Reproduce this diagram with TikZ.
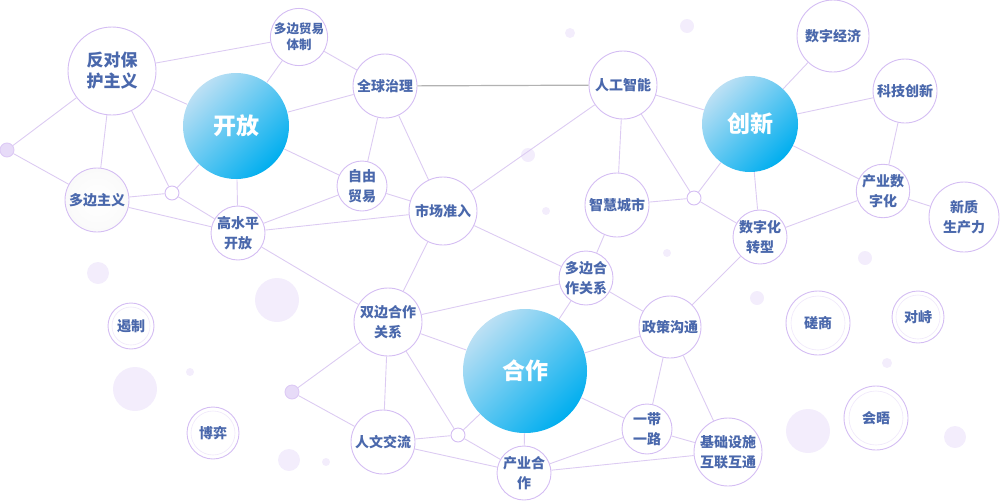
\documentclass[tikz,border=0pt]{standalone}
\usepackage{fontspec}
\setmainfont{Noto Sans CJK SC}
\usetikzlibrary{arrows}

\definecolor{edgec}{HTML}{DCCBF2}
\definecolor{ringc}{HTML}{D4BDF3}
\definecolor{txtc}{HTML}{4A68AC}
\definecolor{blobc}{HTML}{F3EDFC}
\definecolor{hubl}{HTML}{BCE0F4}
\definecolor{hubd}{HTML}{00AEEF}

\begin{document}
\begin{tikzpicture}
  [x=1pt,y=-1pt,every node/.style={draw=ringc,circle,fill=white,inner sep=0pt,line width=0.9pt,
   text=txtc,align=center,font=\bfseries\fontsize{14}{20}\selectfont}]

  \tikzstyle{hub} = [draw=none,shading=axis,top color=hubl,bottom color=hubd,shading angle=45,
                     text=white,font=\bfseries\fontsize{23}{23}\selectfont]
  \tikzstyle{knot} = [minimum size=14pt]
  \tikzstyle{dot} = [knot,fill=ringc!55,draw=ringc!80]

  \useasboundingbox (0,0) rectangle (1000,501);

  % background bubbles
  \foreach \x/\y/\r in {98/273/11,277/300/22,135/389/22,190/372/4,289/460/11,326/462/4,
                        757/298/7,865/258/7,667/253/4,887/363/5,808/431/22,955/437/11,
                        570/33/5,687/26/7,528/155/7,546/211/4}
    \fill[blobc] (\x,\y) circle (\r);

  % hubs
  \node[hub,minimum size=106pt] (kai) at (236,126) {开放};
  \node[hub,minimum size=96pt]  (chx) at (750,124) {创新};
  \node[hub,minimum size=124pt] (hz)  at (525,371) {合作};

  % open side
  \node[minimum size=88pt,font=\bfseries\fontsize{17}{21}\selectfont] (fdb) at (112,71) {反对保\\护主义};
  \node[minimum size=52pt,font=\bfseries\fontsize{12.5}{16}\selectfont] (dmt) at (299,37) {多边贸易\\体制};
  \node[minimum size=64pt] (qzl) at (385,86) {全球治理};
  \node[minimum size=64pt,inner color=white,outer color=gray!4] (dbz) at (97,200) {多边主义};
  \node[knot] (ka) at (172,193) {};
  \node[dot]  (da) at (7,150) {};
  \node[minimum size=50pt] (zym) at (362,186) {自由\\贸易};
  \node[minimum size=68pt] (sczr) at (443,211) {市场准入};
  \node[minimum size=54pt] (gsp) at (238,233) {高水平\\开放};

  % innovation side
  \node[minimum size=68pt] (rgz) at (623,85) {人工智能};
  \node[minimum size=72pt] (szj) at (833,36) {数字经济};
  \node[minimum size=64pt] (kjc) at (905,91) {科技创新};
  \node[minimum size=48pt] (cys) at (883,191) {产业数\\字化};
  \node[minimum size=70pt] (xzs) at (964,217) {新质\\生产力};
  \node[minimum size=64pt] (zhc) at (617,205) {智慧城市};
  \node[knot] (kb) at (694,198) {};
  \node[minimum size=54pt] (szz) at (760,237) {数字化\\转型};

  % cooperation side
  \node[minimum size=54pt] (dbh) at (586,278) {多边合\\作关系};
  \node[minimum size=68pt] (sbh) at (388,322) {双边合作\\关系};
  \node[minimum size=62pt] (zcg) at (670,327) {政策沟通};
  \node[minimum size=50pt] (ydy) at (647,429) {一带\\一路};
  \node[minimum size=68pt] (jcs) at (728,452) {基础设施\\互联互通};
  \node[minimum size=54pt] (cyh) at (524,473) {产业合\\作};
  \node[minimum size=64pt] (rwj) at (383,442) {人文交流};
  \node[knot] (kc) at (458,435) {};
  \node[dot]  (db) at (292,392) {};

  % loose terms
  \node[minimum size=46pt] (ez) at (131,326) {遏制};
  \node[minimum size=52pt] (by) at (213,433) {博弈};
  \node[minimum size=64pt] (cs) at (818,323) {磋商};
  \node[minimum size=52pt] (dz) at (918,317) {对峙};
  \node[minimum size=64pt] (hw) at (876,418) {会晤};
  \foreach \n/\r in {ez/19,by/22,cs/27,dz/22,hw/27}
    \draw[ringc!35,line width=0.6pt] (\n.center) circle (\r);

  \path[draw=edgec,line width=0.9pt]
        (fdb) edge (dmt)  (fdb) edge (kai)  (fdb) edge (dbz)
        (fdb) edge (ka)   (fdb) edge (da)   (da) edge (dbz)
        (dbz) edge (ka)   (dbz) edge (gsp)  (ka) edge (kai)
        (ka) edge (gsp)   (dmt) edge (kai)  (dmt) edge (qzl)
        (kai) edge (qzl)  (kai) edge (zym)  (kai) edge (gsp)
        (qzl) edge (zym)  (qzl) edge (sczr) (zym) edge (gsp)
        (zym) edge (sczr) (gsp) edge (sczr) (gsp) edge (sbh)
        (sczr) edge (rgz) (sczr) edge (dbh) (sczr) edge (sbh)
        (rgz) edge (chx)  (rgz) edge (zhc)  (rgz) edge (kb)
        (chx) edge (szj)  (chx) edge (kjc)  (chx) edge (cys)
        (chx) edge (szz)  (chx) edge (kb)   (zhc) edge (kb)
        (kb) edge (szz)   (kjc) edge (cys)  (cys) edge (szz)
        (cys) edge (xzs)  (zhc) edge (dbh)  (dbh) edge (sbh)
        (dbh) edge (hz)   (dbh) edge (zcg)  (szz) edge (zcg)
        (zcg) edge (hz)   (zcg) edge (ydy)  (zcg) edge (jcs)
        (hz) edge (ydy)   (ydy) edge (cyh)  (ydy) edge (jcs)
        (cyh) edge (jcs)  (hz) edge (cyh)   (sbh) edge (hz)
        (sbh) edge (rwj)  (sbh) edge (kc)   (sbh) edge (db)
        (db) edge (rwj)   (rwj) edge (kc)   (rwj) edge (cyh)
        (kc) edge (hz)    (kc) edge (cyh);
  \draw[color=gray!60,line width=1.2pt] (qzl) -- (rgz);
\end{tikzpicture}
\end{document}
